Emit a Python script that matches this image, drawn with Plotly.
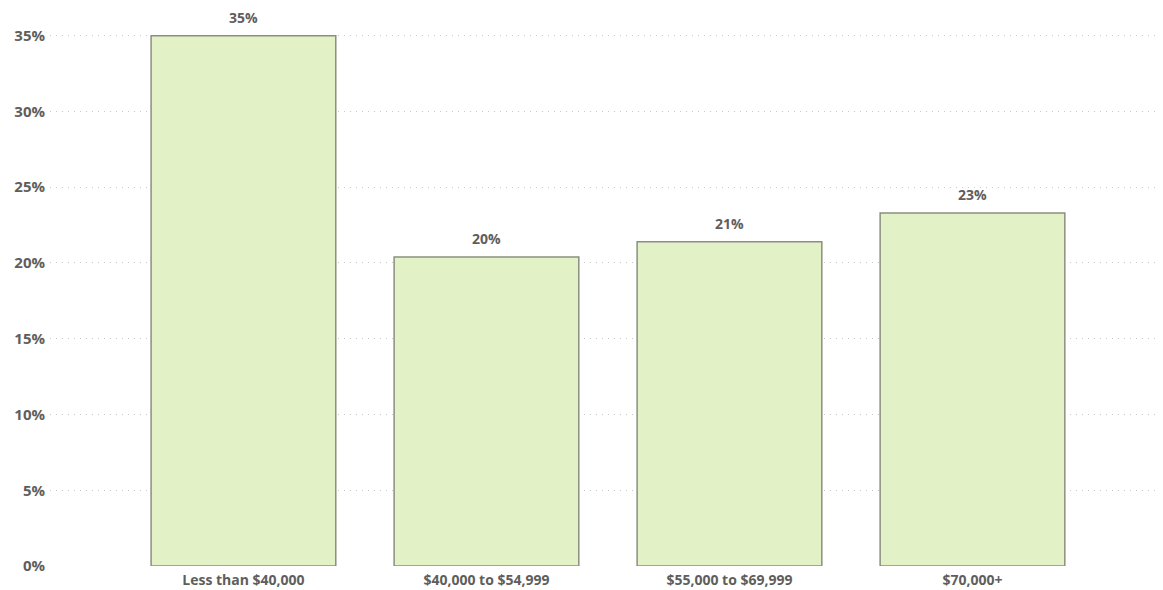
import plotly.graph_objects as go

categories = ["Less than $40,000", "$40,000 to $54,999", "$55,000 to $69,999", "$70,000+"]
shares = [35.0, 20.4, 21.4, 23.3]
y_ticks = [0, 5, 10, 15, 20, 25, 30, 35]
y_tick_labels = [f"{v}%" for v in y_ticks]

font_name = "Open Sans"
text_color = "#605e5c"

fig = go.Figure(go.Bar(
    x=categories,
    y=shares,
    marker=dict(color="#e2f1c6", line=dict(color="#8c8f80", width=1.5)),
    cliponaxis=False,
))

# value labels sit a bit higher above the bars than plotly's outside text
for cat, v in zip(categories, shares):
    fig.add_annotation(
        x=cat, y=v, text=f"{round(v)}%", showarrow=False,
        yanchor="middle", yshift=18,
        font=dict(family=font_name, size=14, color=text_color, weight="bold"),
    )

# page has an 8px body margin, so the figure is sized a bit under the window
fig.update_layout(
    width=1155,
    height=582,
    margin=dict(l=42, r=0, t=5, b=24),
    plot_bgcolor="white",
    paper_bgcolor="white",
    bargap=0.24,
    showlegend=False,
    xaxis=dict(
        range=[-0.796, 3.784],
        showgrid=False,
        showline=False,
        ticks="",
        ticklabelstandoff=4,
        tickfont=dict(family=font_name, size=14, color=text_color, weight="bold"),
    ),
    yaxis=dict(
        range=[0, 36.5],
        tickvals=y_ticks,
        ticktext=y_tick_labels,
        showgrid=True,
        gridcolor="#c8c8c8",
        griddash="1px,5px",
        gridwidth=1,
        zeroline=False,
        ticks="",
        ticklabelstandoff=4,
        tickfont=dict(family=font_name, size=15, color=text_color, weight="bold"),
    ),
)

fig.write_html("out.html")
